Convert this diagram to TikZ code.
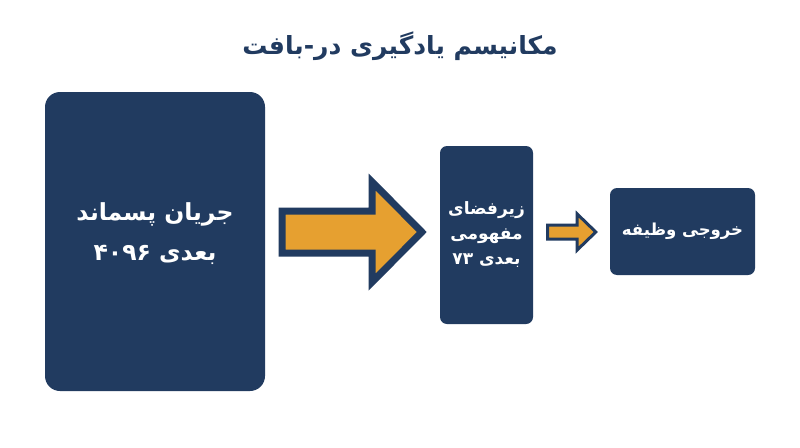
\documentclass[tikz,border=0pt]{standalone}
\usepackage{fontspec}
\newfontfamily\arabicfont[Script=Arabic]{DejaVu Sans}
\TeXXeTstate=1
\usetikzlibrary{calc}
\definecolor{navy}{HTML}{213B60}
\definecolor{gold}{HTML}{E6A030}
\tikzset{
  box/.style={fill=navy, draw=none, text=white, align=center, font=\arabicfont\bfseries},
  boxtext/.style={text=white, align=center},
  bigarrow/.style={fill=gold, draw=navy, line width=7pt, line join=miter},
  smallarrow/.style={fill=gold, draw=navy, line width=3pt, line join=miter},
}
\begin{document}
\begin{tikzpicture}[x=1pt,y=-1pt]
\useasboundingbox (0,0) rectangle (800,447);
\fill[white] (0,0) rectangle (800,447);
\node[text=navy, font=\arabicfont\bfseries\fontsize{25}{29}\selectfont] (title) at (400,46) {\beginR مکانیسم یادگیری در-بافت\endR};
\node[box, rounded corners=15pt, minimum width=220pt, minimum height=299pt] (b1) at (155,241.5) {};
\node[boxtext, font=\arabicfont\bfseries\fontsize{23.5}{40}\selectfont] (b1t) at ($(b1.center)+(0,-8)$) {\beginR جریان پسماند\endR\\\beginR بعدی \beginL۴۰۹۶\endL\endR};
\node[box, rounded corners=7pt, minimum width=93pt, minimum height=178pt, font=\arabicfont\bfseries\fontsize{17}{25}\selectfont] (b2) at (486.5,235) {\beginR زیرفضای\endR\\\beginR مفهومی\endR\\\beginR بعدی \beginL۷۳\endL\endR};
\node[box, rounded corners=7pt, minimum width=145pt, minimum height=87pt, font=\arabicfont\bfseries\fontsize{16.5}{22}\selectfont] (b3) at (682.5,231.5) {\beginR خروجی وظیفه\endR};
% big arrow
\coordinate (a1s) at ($(b1.east |- 0,232)+(17,0)$);
\coordinate (a1e) at ($(b2.west |- 0,232)+(-18,0)$);
\draw[bigarrow] ($(a1s)+(0,-21)$) -- ($(a1s)+(90,-21)$) -- ($(a1s)+(90,-50)$) -- (a1e) -- ($(a1s)+(90,50)$) -- ($(a1s)+(90,21)$) -- ($(a1s)+(0,21)$) -- cycle;
% small arrow
\coordinate (a2s) at ($(b2.east |- 0,232)+(14.5,0)$);
\coordinate (a2e) at ($(b3.west |- 0,232)+(-14,0)$);
\draw[smallarrow] ($(a2s)+(0,-7)$) -- ($(a2s)+(29.5,-7)$) -- ($(a2s)+(29.5,-18)$) -- (a2e) -- ($(a2s)+(29.5,18)$) -- ($(a2s)+(29.5,7)$) -- ($(a2s)+(0,7)$) -- cycle;
\end{tikzpicture}
\end{document}
